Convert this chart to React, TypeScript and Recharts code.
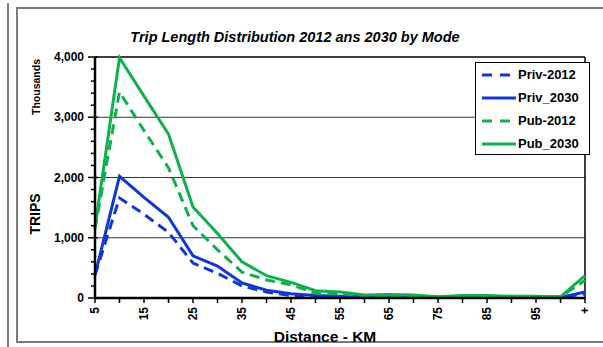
import React from 'react';
import {
  Line,
  LineChart,
  ReferenceLine,
  XAxis,
  YAxis,
} from 'recharts';

const distances = [
  '5', '10', '15', '20', '25', '30', '35', '40', '45', '50', '55',
  '60', '65', '70', '75', '80', '85', '90', '95', '100', '+',
];

// trips, thousands
const priv2012 = [380, 1660, 1390, 1090, 580, 410, 200, 100, 40, 30, 20, 15, 10, 10, 10, 10, 10, 10, 10, 10, 70];
const priv2030 = [380, 2020, 1670, 1340, 700, 530, 250, 130, 70, 40, 30, 25, 20, 20, 15, 15, 15, 15, 10, 10, 100];
const pub2012 = [1150, 3420, 2780, 2160, 1200, 800, 430, 300, 220, 80, 70, 40, 40, 30, 20, 30, 30, 20, 20, 20, 290];
const pub2030 = [1170, 3990, 3350, 2720, 1510, 1070, 600, 370, 260, 120, 100, 50, 60, 50, 20, 40, 40, 30, 30, 20, 370];

const yTicks = [0, 200, 400, 600, 800, 1000, 1200, 1400, 1600, 1800, 2000, 2200, 2400, 2600, 2800, 3000, 3200, 3400, 3600, 3800, 4000];
const gridValues = [1000, 2000, 3000];

const BLUE = '#1238d0';
const GREEN = '#10b04e';
const FONT = "'Liberation Sans', Arial, sans-serif";

const series = [
  { key: 'priv2012', name: 'Priv-2012', color: BLUE, dash: '10 6' },
  { key: 'priv2030', name: 'Priv_2030', color: BLUE, dash: undefined },
  { key: 'pub2012', name: 'Pub-2012', color: GREEN, dash: '10 6' },
  { key: 'pub2030', name: 'Pub_2030', color: GREEN, dash: undefined },
];

const chartData = distances.map((d, i) => ({
  distance: d,
  priv2012: priv2012[i],
  priv2030: priv2030[i],
  pub2012: pub2012[i],
  pub2030: pub2030[i],
}));

function YTick({ x, y, payload }: any) {
  const major = payload.value % 1000 === 0;
  return (
    <g>
      <line
        x1={x - (major ? 7 : 4)}
        x2={x + (major ? 3 : 0)}
        y1={y}
        y2={y}
        stroke='#000'
        strokeWidth={1.5}
      />
      {major && (
        <text
          x={x - 11}
          y={y}
          dy={4}
          textAnchor='end'
          fontSize={12}
          fontWeight='bold'
          fontFamily={FONT}
          fill='#000'
        >
          {payload.value.toLocaleString('en-US')}
        </text>
      )}
    </g>
  );
}

function XTick({ x, y, payload, index }: any) {
  return (
    <g>
      <line x1={x} x2={x} y1={y - 1} y2={y + 5} stroke='#000' strokeWidth={1.5} />
      {index % 2 === 0 && (
        <text
          transform={`translate(${x},${y + 9}) rotate(-90)`}
          dy={4}
          textAnchor='end'
          fontSize={12}
          fontWeight='bold'
          fontFamily={FONT}
          fill='#000'
        >
          {payload.value}
        </text>
      )}
    </g>
  );
}

function LegendBox() {
  return (
    <div
      style={{
        position: 'absolute',
        left: 475,
        top: 62,
        border: '1px solid #000',
        background: '#fff',
        width: 115,
        height: 93,
        boxSizing: 'border-box',
        padding: '0 0 0 5px',
        fontFamily: FONT,
      }}
    >
      {series.map((s) => (
        <div key={s.key} style={{ display: 'flex', alignItems: 'center', height: 23 }}>
          <svg width={36} height={8}>
            <line
              x1={1}
              x2={35}
              y1={4}
              y2={4}
              stroke={s.color}
              strokeWidth={3}
              strokeDasharray={s.dash ? '10 8' : undefined}
            />
          </svg>
          <span style={{ fontSize: 13, fontWeight: 'bold', color: '#000', marginLeft: 1 }}>
            {s.name}
          </span>
        </div>
      ))}
    </div>
  );
}

export default function App() {
  return (
    <div style={{ position: 'absolute', left: 0, top: 0, width: 603, height: 347, background: '#fff', overflow: 'hidden' }}>
      <svg width={603} height={347} style={{ position: 'absolute', left: 0, top: 0 }}>
        <line x1={8} x2={8} y1={3} y2={347} stroke='#555' strokeWidth={1.5} />
        <rect x={17} y={8} width={600} height={334} fill='none' stroke='#7a7a7a' strokeWidth={2} />
        <text x={295} y={42} textAnchor='middle' fontSize={14.5} fontWeight='bold' fontStyle='italic' fontFamily={FONT} fill='#000'>
          Trip Length Distribution 2012 ans 2030 by Mode
        </text>
        <text transform='translate(40,87) rotate(-90)' textAnchor='middle' fontSize={10.5} fontWeight='bold' fontFamily={FONT} fill='#000'>
          Thousands
        </text>
        <text transform='translate(40,214) rotate(-90)' textAnchor='middle' fontSize={14} fontWeight='bold' fontFamily={FONT} fill='#000'>
          TRIPS
        </text>
        <text x={325} y={342} textAnchor='middle' fontSize={15.5} fontWeight='bold' fontFamily={FONT} fill='#000'>
          Distance - KM
        </text>
      </svg>
      <div style={{ position: 'absolute', left: 0, top: 0 }}>
        <LineChart
          width={603}
          height={347}
          data={chartData}
          margin={{ top: 57, right: 18, bottom: 19, left: 0 }}
        >
          {gridValues.map((v) => (
            <ReferenceLine key={v} y={v} stroke='#333' strokeWidth={1} />
          ))}
          <ReferenceLine y={4000} stroke='#000' strokeWidth={1.5} />
          <ReferenceLine x='+' stroke='#000' strokeWidth={1.5} />
          <XAxis
            dataKey='distance'
            interval={0}
            height={30}
            tickSize={0}
            tickMargin={0}
            tick={<XTick />}
            tickLine={false}
            axisLine={{ stroke: '#000', strokeWidth: 2.5 }}
          />
          <YAxis
            width={95}
            domain={[0, 4000]}
            ticks={yTicks}
            interval={0}
            tickSize={0}
            tickMargin={0}
            tick={<YTick />}
            tickLine={false}
            axisLine={{ stroke: '#000', strokeWidth: 2.5 }}
          />
          {series.map((s) => (
            <Line
              key={s.key}
              type='linear'
              dataKey={s.key}
              name={s.name}
              stroke={s.color}
              strokeWidth={3}
              strokeDasharray={s.dash}
              dot={false}
              activeDot={false}
              isAnimationActive={false}
            />
          ))}
        </LineChart>
      </div>
      <LegendBox />
    </div>
  );
}
